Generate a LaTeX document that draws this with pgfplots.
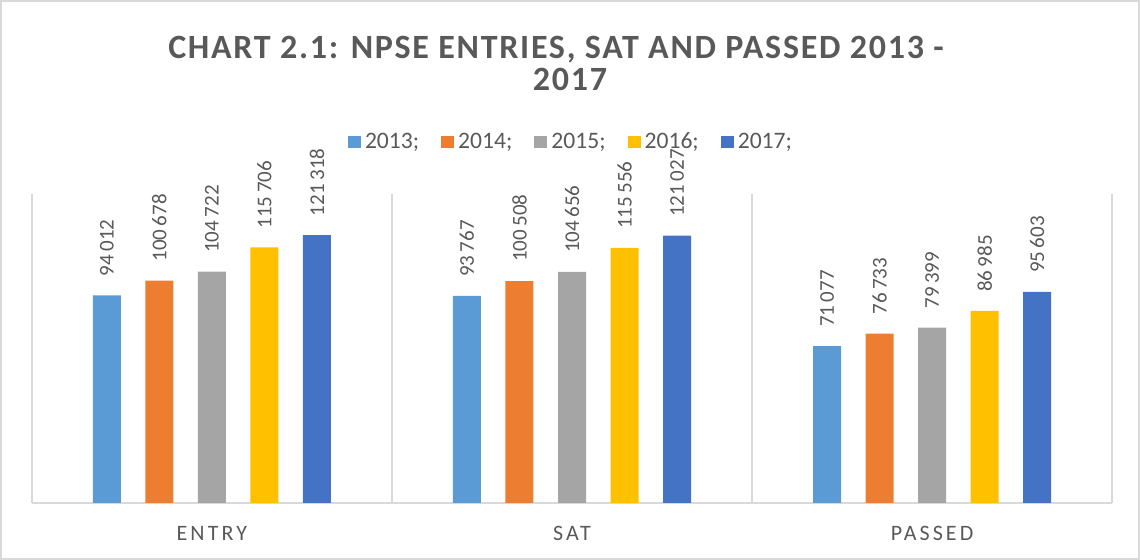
\documentclass[border=0pt]{standalone}
\usepackage{pgfplots}
\usepackage{fontspec}
\setmainfont{Carlito}
\newfontfamily\spaced[LetterSpace=5]{Carlito}
\newfontfamily\wide[LetterSpace=14]{Carlito}
\pgfplotsset{compat=1.18}
\definecolor{txtgray}{HTML}{595959}
\definecolor{linegray}{HTML}{D9D9D9}
\definecolor{c13}{HTML}{5B9BD5}
\definecolor{c14}{HTML}{ED7D31}
\definecolor{c15}{HTML}{A5A5A5}
\definecolor{c16}{HTML}{FFC000}
\definecolor{c17}{HTML}{4472C4}
\begin{document}
\begin{tikzpicture}
\draw[linegray, line width=0.8pt] (0.5pt,0.5pt) rectangle (569.5pt,279.5pt);
\node[font=\fontsize{17}{16}\selectfont\spaced\bfseries, text=txtgray, align=center] at (285pt,248pt)
  {CHART 2.1: NPSE ENTRIES, SAT AND PASSED 2013 -\hspace*{14pt}\\2017};
\begin{axis}[
at={(16pt,28.5pt)},
anchor=south west,
scale only axis,
width=540pt,
height=154.5pt,
ybar=12.25pt,
bar width=14pt,
xmin=-0.5, xmax=2.5,
ymin=0, ymax=140000,
xtick={0,1,2},
xticklabels={ENTRY,SAT,PASSED},
xtick style={draw=none},
xticklabel style={font=\fontsize{11}{13}\selectfont\wide, text=txtgray, yshift=-4pt},
ytick=\empty,
axis line style={draw=none},
clip=false,
/pgf/number format/.cd, fixed, precision=0, 1000 sep={\,}, assume math mode=true,
/pgfplots/.cd,
nodes near coords,
every node near coord/.append style={rotate=90, anchor=west, font=\fontsize{10.5}{12}\selectfont, text=txtgray, xshift=6pt},
legend columns=5,
legend style={draw=none, fill=none, at={(0.5,1.168)}, anchor=center, font=\fontsize{11.8}{14}\selectfont, text=txtgray,
  /tikz/every even column/.append style={column sep=9pt}},
legend image code/.code={\fill[#1] (0pt,-3.2pt) rectangle (6.5pt,3.2pt);},
]
\draw[linegray, line width=0.8pt] (rel axis cs:0,0) -- (rel axis cs:1,0);
\draw[linegray, line width=0.8pt] (axis cs:-0.5,0) -- (rel axis cs:0,1);
\draw[linegray, line width=0.8pt] (axis cs:0.5,0) -- (axis cs:0.5,140000);
\draw[linegray, line width=0.8pt] (axis cs:1.5,0) -- (axis cs:1.5,140000);
\draw[linegray, line width=0.8pt] (axis cs:2.5,0) -- (axis cs:2.5,140000);
\addplot[fill=c13, draw=none] coordinates {(0,94012) (1,93767) (2,71077)};
\addplot[fill=c14, draw=none] coordinates {(0,100678) (1,100508) (2,76733)};
\addplot[fill=c15, draw=none] coordinates {(0,104722) (1,104656) (2,79399)};
\addplot[fill=c16, draw=none] coordinates {(0,115706) (1,115556) (2,86985)};
\addplot[fill=c17, draw=none] coordinates {(0,121318) (1,121027) (2,95603)};
\legend{2013;,2014;,2015;,2016;,2017;}
\end{axis}
\end{tikzpicture}
\end{document}
